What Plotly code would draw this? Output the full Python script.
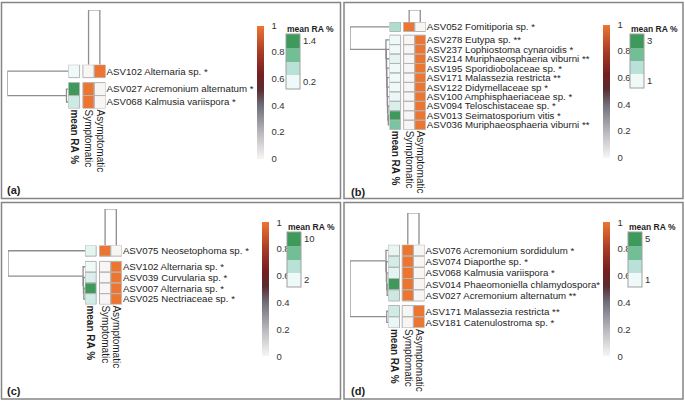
import plotly.graph_objects as go

W, H = 685, 402

# ---------------- data ----------------
col_labels = ["<b>mean RA %</b>", "Symptomatic", "Asymptomatic"]
bar_ticks = [0, 0.2, 0.4, 0.6, 0.8, 1]
col_tree = [0, 1, 1.0]

# (a)
a_rows = ["ASV102 Alternaria sp. *", "ASV027 Acremonium alternatum *",
          "ASV068 Kalmusia variispora *"]
a_clusters = [1, 2]
a_mean_ra = [0.2, 1.4, 0.45]
a_symptomatic = [0, 1, 1]
a_asymptomatic = [1, 0, 0]
a_row_tree = [0, [1, 2, 0.03], 1.0]
a_legend = [0.2, 1.4]
a_legend_text = ["0.2", "1.4"]

# (b)
b_rows = ["ASV052 Fomitiporia sp. *", "ASV278 Eutypa sp. **",
          "ASV237 Lophiostoma cynaroidis *", "ASV214 Muriphaeosphaeria viburni **",
          "ASV195 Sporidiobolaceae sp. *", "ASV171 Malassezia restricta **",
          "ASV122 Didymellaceae sp *", "ASV100 Amphisphaeriaceae sp. *",
          "ASV094 Teloschistaceae sp. *", "ASV013 Seimatosporium vitis *",
          "ASV036 Muriphaeosphaeria viburni **"]
b_clusters = [1, 10]
b_mean_ra = [1.76, 1.0, 1.0, 1.14, 1.0, 1.0, 1.0, 1.05, 1.27, 3.0, 2.24]
b_symptomatic = [1, 0, 0, 0, 0, 0, 0, 0, 0, 0, 0]
b_asymptomatic = [0, 1, 1, 1, 1, 1, 1, 1, 1, 1, 1]
b_row_tree = [0, [1, [2, [3, [4, [5, [6, [7, [8, [9, 10, 0.03], 0.04], 0.05],
              0.055], 0.06], 0.07], 0.075], 0.08], 0.09], 1.0]
b_legend = [1, 3]
b_legend_text = ["1", "3"]

# (c)
c_rows = ["ASV075 Neosetophoma sp. *", "ASV102 Alternaria sp. *",
          "ASV039 Curvularia sp. *", "ASV007 Alternaria sp. *",
          "ASV025 Nectriaceae sp. *"]
c_clusters = [1, 4]
c_mean_ra = [2.6, 2.0, 3.0, 10.0, 3.5]
c_symptomatic = [1, 0, 0, 0, 0]
c_asymptomatic = [0, 1, 1, 1, 1]
c_row_tree = [0, [1, [2, [3, 4, 0.015], 0.02], 0.025], 1.0]
c_legend = [2, 10]
c_legend_text = ["2", "10"]

# (d)
d_rows = ["ASV076 Acremonium sordidulum *", "ASV074 Diaporthe sp. *",
          "ASV068 Kalmusia variispora *", "ASV014 Phaeomoniella chlamydospora*",
          "ASV027 Acremonium alternatum **", "ASV171 Malassezia restricta **",
          "ASV181 Catenulostroma sp. *"]
d_clusters = [5, 2]
d_mean_ra = [1.2, 1.7, 1.3, 5.0, 1.9, 1.8, 1.1]
d_symptomatic = [1, 1, 1, 1, 1, 0, 0]
d_asymptomatic = [0, 0, 0, 0, 0, 1, 1]
d_row_tree = [[0, [1, [2, [3, 4, 0.03], 0.04], 0.05], 0.06], [5, 6, 0.04], 1.0]
d_legend = [1, 5]
d_legend_text = ["1", "5"]

# ---------------- styling ----------------
font_family = "Arial, Liberation Sans, sans-serif"
text_color = "#1e1e1e"
line_grey = "#8e8e8e"
cell_border = "#b4b4b4"
orange_scale = [[0, "#f8f5f5"], [0.2, "#b9b7bb"], [0.4, "#6f6e7a"],
                [0.52, "#5a2c31"], [0.63, "#731f20"], [0.8, "#a93b27"],
                [1, "#ec7631"]]
greens = ["#eff9f8", "#b9e1d8", "#72bf96", "#3d9a5b"]
green_scale = [[i / 3, c] for i, c in enumerate(greens)]
green_steps = []
for i, c in enumerate(greens):
    green_steps += [[i / 4, c], [(i + 1) / 4, c]]

# panel geometry in pixels
panels = [
    dict(tag="(a)", rows=a_rows, clusters=a_clusters, mean_ra=a_mean_ra,
         sym=a_symptomatic, asym=a_asymptomatic, tree=a_row_tree,
         legend=a_legend, legend_text=a_legend_text,
         box=(1.5, 1.5, 340.5, 198.5), left=68.3, top=64, cw=11.3, ch=13,
         cgap=3.3, rgap=5, root=7.3, ctop=9, bar=(257, 25, 158),
         leg=(286, 33, 88), lab=(5, 190)),
    dict(tag="(b)", rows=b_rows, clusters=b_clusters, mean_ra=b_mean_ra,
         sym=b_symptomatic, asym=b_asymptomatic, tree=b_row_tree,
         legend=b_legend, legend_text=b_legend_text,
         box=(344, 1.5, 683, 198.5), left=389.5, top=21.2, cw=11.1, ch=9.5,
         cgap=3, rgap=3.6, root=350, ctop=9, bar=(603, 24, 157),
         leg=(630, 33, 87), lab=(349, 191.5)),
    dict(tag="(c)", rows=c_rows, clusters=c_clusters, mean_ra=c_mean_ra,
         sym=c_symptomatic, asym=c_asymptomatic, tree=c_row_tree,
         legend=c_legend, legend_text=c_legend_text,
         box=(1.5, 202.5, 340.5, 400), left=85, top=245.6, cw=11.2, ch=10.8,
         cgap=3.3, rgap=5.3, root=8, ctop=209, bar=(261.7, 222.7, 356.7),
         leg=(287, 232, 287), lab=(5, 391.5)),
    dict(tag="(d)", rows=d_rows, clusters=d_clusters, mean_ra=d_mean_ra,
         sym=d_symptomatic, asym=d_asymptomatic, tree=d_row_tree,
         legend=d_legend, legend_text=d_legend_text,
         box=(344, 202.5, 683, 400), left=388.3, top=245, cw=11.2, ch=11.3,
         cgap=2.7, rgap=4.5, root=350, ctop=213, bar=(603, 222.7, 356.7),
         leg=(628, 232, 287), lab=(349, 391.5)),
]


def px(x):
    return x / W


def py(y):
    return 1 - y / H


def tree_lines(node, pos, hs, ps):
    # returns (position, height) of node; appends U-shaped link to hs/ps
    if isinstance(node, int):
        return pos[node], 0.0
    left, right, h = node
    pl, hl = tree_lines(left, pos, hs, ps)
    pr, hr = tree_lines(right, pos, hs, ps)
    hs += [hl, h, h, hr, None]
    ps += [pl, pl, pr, pr, None]
    return (pl + pr) / 2, h


fig = go.Figure()
layout = {}
shapes = []
annotations = []

for p, P in enumerate(panels):
    hx, dx = 2 * p + 1, 2 * p + 2
    xa, ya = ("x" if hx == 1 else f"x{hx}"), ("y" if hx == 1 else f"y{hx}")
    xd, yd = f"x{dx}", f"y{dx}"
    ca_orange = "coloraxis" if p == 0 else f"coloraxis{3 * p + 1}"
    ca_green = f"coloraxis{3 * p + 2}"
    ca_leg = f"coloraxis{3 * p + 3}"

    g = P["cgap"] / P["cw"]
    rg = P["rgap"] / P["ch"]
    col_pos = [0, 1 + g, 2 + g]
    n, K = len(P["rows"]), len(P["clusters"])

    # row positions with gaps between clusters
    row_pos = []
    for k, size in enumerate(P["clusters"]):
        start = len(row_pos)
        row_pos += [start + i + k * rg for i in range(size)]

    # heatmap cells, one trace per cluster
    start = 0
    for k, size in enumerate(P["clusters"]):
        idx = list(range(start, start + size))
        fig.add_trace(go.Heatmap(
            z=[[P["mean_ra"][i]] for i in idx], x0=0, dx=1, y0=row_pos[idx[0]], dy=1,
            coloraxis=ca_green, xaxis=xa, yaxis=ya, hoverinfo="skip"))
        fig.add_trace(go.Heatmap(
            z=[[P["sym"][i], P["asym"][i]] for i in idx], x0=col_pos[1], dx=1,
            y0=row_pos[idx[0]], dy=1, coloraxis=ca_orange, xaxis=xa, yaxis=ya,
            hoverinfo="skip"))
        start += size

    for yp in row_pos:
        for xc in col_pos:
            shapes.append(dict(type="rect", xref=xa, yref=ya, x0=xc - 0.5, x1=xc + 0.5,
                               y0=yp - 0.5, y1=yp + 0.5,
                               line=dict(color=cell_border, width=1)))

    # dummy trace carrying the stepped mean RA legend
    fig.add_trace(go.Scatter(x=[0], y=[row_pos[0]], mode="markers", xaxis=xa, yaxis=ya,
                             marker=dict(color=[P["legend"][0]], coloraxis=ca_leg,
                                         size=1, opacity=0),
                             showlegend=False, hoverinfo="skip"))

    # row dendrogram
    hs, ps = [], []
    tree_lines(P["tree"], row_pos, hs, ps)
    fig.add_trace(go.Scatter(x=hs, y=ps, mode="lines", xaxis=xd, yaxis=ya,
                             line=dict(color=line_grey, width=1.3), cliponaxis=False,
                             showlegend=False, hoverinfo="skip"))
    # column dendrogram
    hs, ps = [], []
    tree_lines(col_tree, col_pos[1:], hs, ps)
    fig.add_trace(go.Scatter(x=ps, y=hs, mode="lines", xaxis=xa, yaxis=yd,
                             line=dict(color=line_grey, width=1.3), cliponaxis=False,
                             showlegend=False, hoverinfo="skip"))

    x_right = P["left"] + (3 + g) * P["cw"]
    y_bottom = P["top"] + (n + (K - 1) * rg) * P["ch"]
    layout["xaxis" if hx == 1 else f"xaxis{hx}"] = dict(
        domain=[px(P["left"]), px(x_right)], range=[-0.5, 2.5 + g], anchor=ya,
        tickvals=col_pos, ticktext=col_labels, tickangle=90, ticks="",
        showgrid=False, zeroline=False, showline=False,
        tickfont=dict(family=font_family, size=10, color=text_color))
    layout["yaxis" if hx == 1 else f"yaxis{hx}"] = dict(
        domain=[py(y_bottom), py(P["top"])], range=[n - 0.5 + (K - 1) * rg, -0.5],
        anchor=xa, side="right", tickvals=row_pos, ticktext=P["rows"], ticks="",
        showgrid=False, zeroline=False, showline=False,
        tickfont=dict(family=font_family, size=9.7, color=text_color))
    layout[f"xaxis{dx}"] = dict(domain=[px(P["root"]), px(P["left"])], range=[1, 0],
                                anchor=ya, visible=False)
    layout[f"yaxis{dx}"] = dict(domain=[py(P["top"]), py(P["ctop"])], range=[0, 1],
                                anchor=xa, visible=False)

    # colour scales
    bx, bt, bb = P["bar"]
    layout[ca_orange] = dict(
        colorscale=orange_scale, cmin=0, cmax=1,
        colorbar=dict(x=px(bx), xanchor="left", xpad=0, y=py((bt + bb) / 2),
                      yanchor="middle", ypad=0, len=bb - bt, lenmode="pixels",
                      thickness=7, outlinewidth=0, tickvals=bar_ticks,
                      ticks="outside", ticklen=6, tickcolor="rgba(0,0,0,0)",
                      tickfont=dict(family=font_family, size=9.5, color="#333333")))
    lo, hi = P["legend"]
    w = (hi - lo) / 3
    layout[ca_green] = dict(colorscale=green_scale, cmin=lo, cmax=hi, showscale=False)
    lx, lt, lb = P["leg"]
    layout[ca_leg] = dict(
        colorscale=green_steps, cmin=lo - w / 2, cmax=hi + w / 2,
        colorbar=dict(x=px(lx), xanchor="left", xpad=0, y=py((lt + lb) / 2),
                      yanchor="middle", ypad=0, len=lb - lt, lenmode="pixels",
                      thickness=14, outlinewidth=1, outlinecolor="#a0a0a0",
                      tickvals=P["legend"], ticktext=P["legend_text"], ticks="",
                      tickfont=dict(family=font_family, size=9.5, color="#333333")))
    annotations.append(dict(text="<b>mean RA %</b>", xref="paper", yref="paper",
                            x=px(lx - 1), y=py(lt - 5), xanchor="left", yanchor="middle",
                            showarrow=False,
                            font=dict(family=font_family, size=8.5, color=text_color)))
    annotations.append(dict(text=f"<b>{P['tag']}</b>", xref="paper", yref="paper",
                            x=px(P["lab"][0]), y=py(P["lab"][1]), xanchor="left",
                            yanchor="middle", showarrow=False,
                            font=dict(family=font_family, size=11, color=text_color)))
    x0, y0, x1, y1 = P["box"]
    shapes.append(dict(type="rect", xref="paper", yref="paper", x0=px(x0), x1=px(x1),
                       y0=py(y0), y1=py(y1), line=dict(color="#858585", width=1.5),
                       layer="below"))

fig.update_layout(
    width=W, height=H, margin=dict(l=0, r=0, t=0, b=0),
    paper_bgcolor="white", plot_bgcolor="rgba(0,0,0,0)", showlegend=False,
    font=dict(family=font_family, color=text_color),
    shapes=shapes, annotations=annotations, **layout)

# drop the default page margin so the figure sits at the window origin
fig.write_html("out.html", config={"displayModeBar": False},
               post_script="document.body.style.margin = '0px';")
